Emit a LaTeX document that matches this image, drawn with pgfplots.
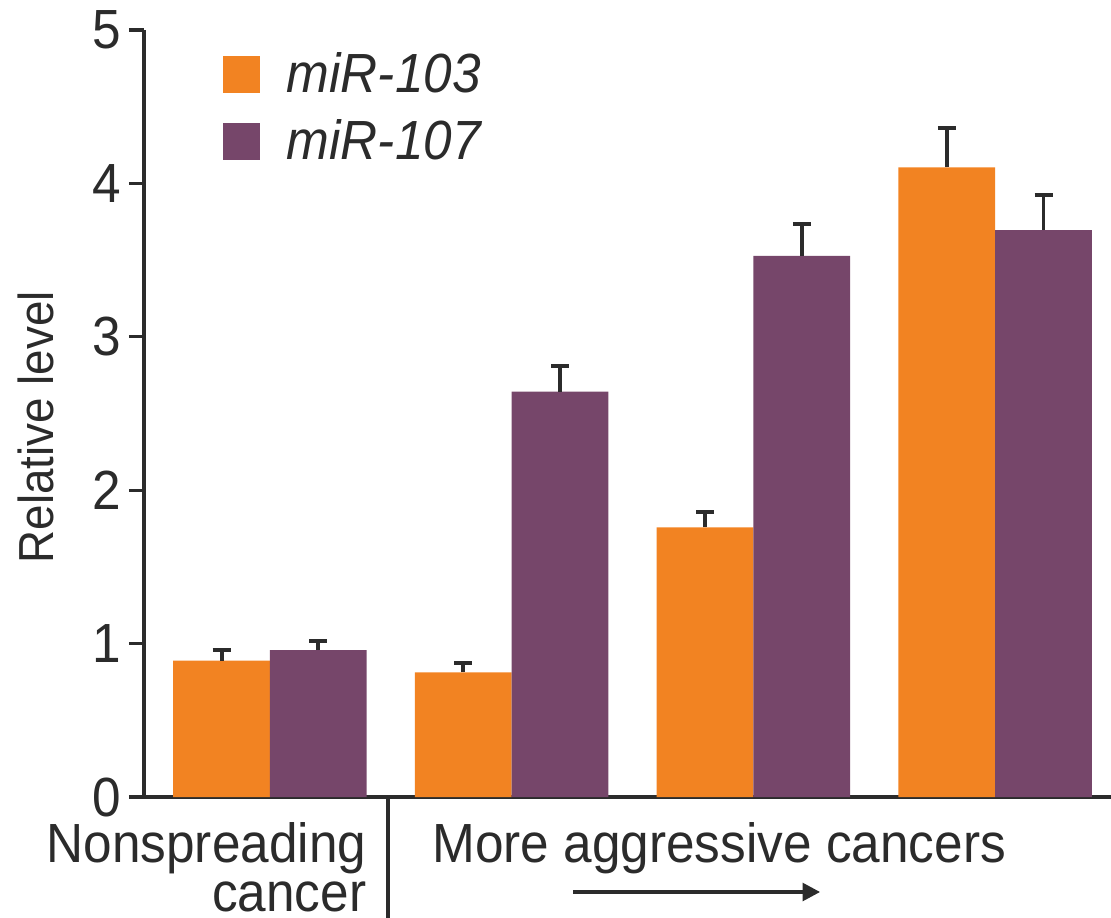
\documentclass[border=0pt]{standalone}
\usepackage{fontspec}
\setmainfont{Liberation Sans}[FakeStretch=0.93]
\usepackage{pgfplots}
\usepackage{pgfplotstable}
\pgfplotsset{compat=1.18}
\usetikzlibrary{arrows.meta}

\definecolor{orng}{HTML}{F28322}
\definecolor{plum}{HTML}{76466A}
\definecolor{ink}{HTML}{2B2B2B}
\newcommand\fs{\fontsize{15.7}{17}\selectfont}

% group, value, upper error
\pgfplotstableread{
x   y      e
0   0.889  0.070
1   0.812  0.060
2   1.758  0.100
3   4.105  0.255
}\mirA
\pgfplotstableread{
x   y      e
0   0.958  0.061
1   2.642  0.168
2   3.527  0.210
3   3.696  0.228
}\mirB

\begin{document}
\begin{tikzpicture}
\path[use as bounding box] (-1.44,-1.20) rectangle (9.67,7.97);
\begin{axis}[
    scale only axis,
    width=9.67cm, height=7.67cm,
    xmin=-0.521, xmax=3.479,
    ymin=0, ymax=5,
    clip=false,
    axis x line*=bottom,
    axis y line*=left,
    axis line style={ink, line width=0.9pt, -},
    xtick=\empty,
    ytick={0,1,2,3,4,5},
    tick style={ink, line width=0.9pt},
    tick align=outside,
    major tick length=0.15cm,
    /pgf/number format/assume math mode=true,
    yticklabel style={font=\fs, text=ink, inner xsep=2pt},
    ylabel={Relative level},
    ylabel style={at={(axis description cs:-0.1117,0.482)}, anchor=center,
                  font=\fontsize{14}{16}\selectfont, text=ink},
    ybar, bar width=0.4,
    legend style={draw=none, fill=none, at={(axis description cs:0.0807,0.972)},
                  anchor=north west, inner sep=0pt, row sep=0.22cm, column sep=0.27cm,
                  font=\fs\itshape, text=ink, nodes={inner sep=0pt}},
    legend cell align=left,
    legend image code/.code={\fill[#1] (0cm,-0.18cm) rectangle (0.37cm,0.19cm);},
]
\addplot[fill=orng, draw=none, bar shift=-0.2,
    error bars/.cd, y dir=plus, y explicit,
    error bar style={ink, line width=1.1pt},
    error mark options={ink, rotate=90, mark size=0.09cm, line width=1.1pt}]
    table[x=x, y=y, y error=e] {\mirA};
\addplot[fill=plum, draw=none, bar shift=0.2,
    error bars/.cd, y dir=plus, y explicit,
    error bar style={ink, line width=1.1pt},
    error mark options={ink, rotate=90, mark size=0.09cm, line width=1.1pt}]
    table[x=x, y=y, y error=e] {\mirB};
\legend{miR-103, miR-107}

% group labels under the axis
\draw[ink, line width=0.9pt] (axis cs:0.488,0) -- ([yshift=-1.3cm]axis cs:0.488,0);
\node[anchor=base east, font=\fs, text=ink, inner sep=0pt] at ([yshift=-0.65cm]axis cs:0.401,0) {Nonspreading};
\node[anchor=base east, font=\fs, text=ink, inner sep=0pt] at ([yshift=-1.145cm]axis cs:0.401,0) {cancer};
\node[anchor=base west, font=\fs, text=ink, inner sep=0pt] at ([yshift=-0.65cm]axis cs:0.670,0) {More aggressive cancers};
\draw[ink, line width=1.1pt, -{Triangle[length=5pt,width=5pt]}]
    ([yshift=-0.95cm]axis cs:1.254,0) -- ([yshift=-0.95cm]axis cs:2.276,0);
\end{axis}
\end{tikzpicture}
\end{document}
